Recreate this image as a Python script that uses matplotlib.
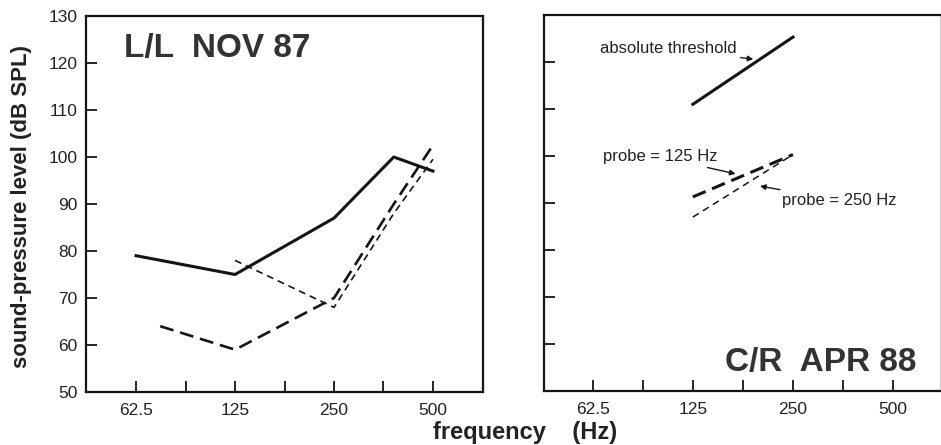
import matplotlib
matplotlib.use("Agg")
import matplotlib.pyplot as plt
from matplotlib.ticker import FixedLocator, NullFormatter

plt.rcParams['font.family'] = ['Liberation Sans', 'DejaVu Sans']
plt.rcParams['lines.scale_dashes'] = False

# tick positions (Hz) and labels
major_ticks = [62.5, 125, 250, 500]
major_labels = ['62.5', '125', '250', '500']
minor_ticks = [88.4, 176.8, 353.6]

# L/L NOV 87
ll_solid_f = [62.5, 125, 250, 380, 500]
ll_solid_db = [79, 75, 87, 100, 97]
ll_long_f = [74, 125, 250, 380, 500]
ll_long_db = [64, 59, 70, 90, 102.5]
ll_short_f = [125, 250, 380, 500]
ll_short_db = [78, 68, 88, 99.5]

# C/R APR 88
cr_abs_f = [125, 250]
cr_abs_db = [111, 125.3]
cr_p125_f = [125, 250]
cr_p125_db = [91.3, 100.3]
cr_p250_f = [125, 250]
cr_p250_db = [87, 100.3]

ink = '#151515'

fig = plt.figure(figsize=(9.41, 4.45), dpi=100)
ax1 = fig.add_axes([86 / 941, 53 / 445, 397 / 941, 376 / 445])
ax2 = fig.add_axes([544 / 941, 54 / 445, 396 / 941, 376 / 445])


def style_axis(ax, xlim, show_ylabels):
    ax.set_xscale('log', base=2)
    ax.set_xlim(*xlim)
    ax.set_ylim(50, 130)
    ax.xaxis.set_major_locator(FixedLocator(major_ticks))
    ax.xaxis.set_minor_locator(FixedLocator(minor_ticks))
    ax.set_xticklabels(major_labels)
    ax.xaxis.set_minor_formatter(NullFormatter())
    ax.set_yticks(range(50, 131, 10))
    if not show_ylabels:
        ax.set_yticklabels([])
    ax.tick_params(which='both', direction='in', length=8, width=1.3,
                   color=ink, labelsize=12.5, labelcolor='#222222')
    ax.tick_params(axis='x', which='both', top=False, pad=8)
    ax.tick_params(axis='y', right=False, pad=6)
    for s in ax.spines.values():
        s.set_linewidth(1.6)
        s.set_color(ink)


style_axis(ax1, (44, 710), True)
style_axis(ax2, (44.6, 692), False)
ax2.spines['right'].set_color('#cccccc')
ax2.spines['right'].set_linewidth(0.8)

# left panel
ax1.plot(ll_solid_f, ll_solid_db, color=ink, lw=2.2)
ax1.plot(ll_long_f, ll_long_db, color=ink, lw=1.9, dashes=(10, 5))
ax1.plot(ll_short_f, ll_short_db, color=ink, lw=1.2, dashes=(5, 3.5))
ax1.text(0.095, 0.955, 'L/L  NOV 87', transform=ax1.transAxes, fontsize=24,
         fontweight='bold', color='#333333', ha='left', va='top')

# right panel
ax2.plot(cr_abs_f, cr_abs_db, color=ink, lw=2.2)
ax2.plot(cr_p125_f, cr_p125_db, color=ink, lw=2.2, dashes=(10, 5))
ax2.plot(cr_p250_f, cr_p250_db, color=ink, lw=1.1, dashes=(5, 3.5))
ax2.text(0.94, 0.035, 'C/R  APR 88', transform=ax2.transAxes, fontsize=24,
         fontweight='bold', color='#333333', ha='right', va='bottom')

arrow = dict(arrowstyle='-|>', color=ink, lw=1.0, mutation_scale=8,
             shrinkA=1, shrinkB=0)
ax2.annotate('absolute threshold', xy=(190, 120.6), xytext=(169, 122.8),
             ha='right', va='center', fontsize=12, color='#222222',
             arrowprops=arrow)
ax2.annotate('probe = 125 Hz', xy=(168, 96.2), xytext=(148.6, 99.8),
             ha='right', va='center', fontsize=12, color='#222222',
             arrowprops=arrow)
ax2.annotate('probe = 250 Hz', xy=(199, 93.6), xytext=(231, 90.6),
             ha='left', va='center', fontsize=12, color='#222222',
             arrowprops=arrow)

fig.text(22 / 941, 0.535, 'sound-pressure level (dB SPL)', rotation=90,
         ha='center', va='center', fontsize=16, fontweight='bold',
         color='#222222')
fig.text(525 / 941, 12 / 445, 'frequency    (Hz)', ha='center',
         va='center', fontsize=17, fontweight='bold', color='#222222')

fig.savefig('out.png', dpi=100)
